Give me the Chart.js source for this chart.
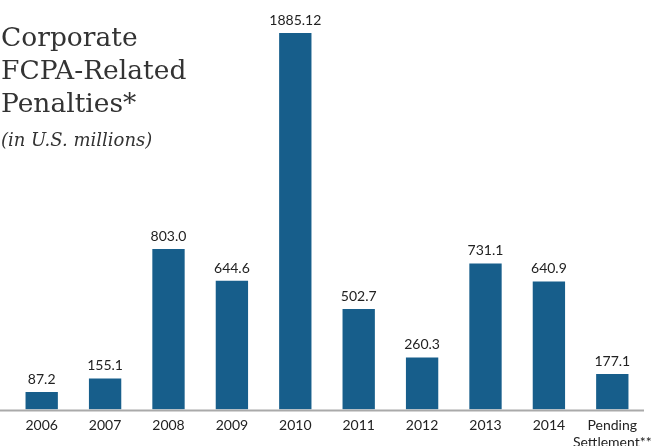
<!DOCTYPE html>
<html><head><meta charset="utf-8">
<script src="https://cdn.jsdelivr.net/npm/chart.js@4"></script>
<style>
html,body{margin:0;padding:0;background:#fff;overflow:hidden;width:662px;height:446px;}
#wrap{position:relative;width:662px;height:459px;}
#title{position:absolute;left:1px;top:20px;font-family:"DejaVu Serif",serif;font-size:26.5px;line-height:33px;color:#333;z-index:2;}
#sub{position:absolute;left:1px;top:129px;font-family:"DejaVu Serif",serif;font-style:italic;font-size:18px;color:#333;z-index:2;}
</style></head><body>
<div id="wrap">
<div id="title">Corporate<br>FCPA-Related<br>Penalties*</div>
<div id="sub">(in U.S. millions)</div>
<canvas id="c" width="662" height="459"></canvas>
</div>
<script>
const categories = ["2006","2007","2008","2009","2010","2011","2012","2013","2014",["Pending","Settlement**"]];
const penalties = [87.2, 155.1, 803.0, 644.6, 1885.12, 502.7, 260.3, 731.1, 640.9, 177.1];
const valueLabels = ["87.2","155.1","803.0","644.6","1885.12","502.7","260.3","731.1","640.9","177.1"];

const labelPlugin = {
  id: 'valLabels',
  afterDatasetsDraw(chart) {
    const ctx = chart.ctx;
    const meta = chart.getDatasetMeta(0);
    ctx.save();
    ctx.font = '14px Lato, sans-serif';
    ctx.fillStyle = '#222';
    ctx.textAlign = 'center';
    ctx.textBaseline = 'alphabetic';
    meta.data.forEach((bar, i) => {
      ctx.fillText(valueLabels[i], bar.x, bar.y - 8);
    });
    const y = chart.scales.y.getPixelForValue(0);
    ctx.strokeStyle = '#aaaaaa';
    ctx.lineWidth = 2;
    ctx.beginPath();
    ctx.moveTo(0, y + 1);
    ctx.lineTo(chart.chartArea.right, y + 1);
    ctx.stroke();
    ctx.restore();
  }
};

new Chart(document.getElementById('c'), {
  type: 'bar',
  data: {
    labels: categories,
    datasets: [{
      data: penalties,
      backgroundColor: '#175e8b',
      categoryPercentage: 1,
      barPercentage: 0.51
    }]
  },
  options: {
    responsive: false,
    animation: false,
    layout: { padding: { left: 10, right: 18, top: 0, bottom: 0 } },
    plugins: { legend: { display: false }, title: { display: false }, tooltip: { enabled: false } },
    scales: {
      x: {
        grid: { display: false, drawTicks: false },
        border: { display: false },
        ticks: { color: '#222', font: { family: 'Lato, sans-serif', size: 14 }, padding: 8, maxRotation: 0, autoSkip: false }
      },
      y: {
        display: false,
        min: 0,
        max: 2050
      }
    }
  },
  plugins: [labelPlugin]
});
</script>
</body></html>
